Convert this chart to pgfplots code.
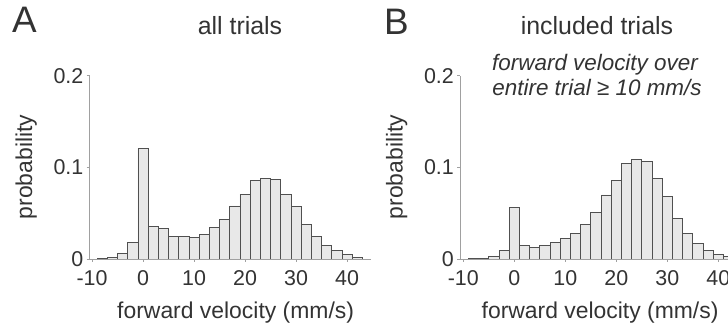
\documentclass[border=0pt]{standalone}
\usepackage{pgfplots}
\pgfplotsset{compat=1.18}
\usepackage{fontspec}
\setmainfont{Liberation Sans}
\definecolor{txt}{HTML}{333333}
\definecolor{axgray}{HTML}{A0A0A0}
\definecolor{barfill}{HTML}{E8E8E8}
\definecolor{baredge}{HTML}{505050}

\pgfplotsset{
  histo/.style={
    scale only axis, height=183bp, ymin=0, ymax=0.2,
    axis lines=left, axis line style={-, axgray, line width=1bp},
    every tick/.style={axgray, line width=1bp},
    tick align=outside, major tick length=3bp,
    ytick={0,0.1,0.2}, yticklabels={0,0.1,0.2},
    xtick={-10,0,10,20,30,40}, xticklabels={-10,0,10,20,30,40},
    tick label style={font=\fontsize{21.5}{25}\selectfont, text=txt, inner sep=0pt},
    x tick label style={anchor=north, yshift=-8bp},
    y tick label style={anchor=east, xshift=-3bp},
    xlabel={forward velocity (mm/s)},
    clip=true,
  },
  hbar/.style={ybar, bar width=2, fill=barfill, draw=baredge, line width=0.8bp},
}

\begin{document}
\begin{tikzpicture}
% Panel A
\begin{axis}[histo, at={(89.5bp,67bp)}, anchor=south west,
  xmin=-10.5, xmax=44.6, width=281bp,
  every axis x label/.style={at={(rel axis cs:0.52,0)}, anchor=base, yshift=-59bp,
      font=\fontsize{23}{27}\selectfont, text=txt, inner sep=0pt}]
\addplot[hbar] coordinates {
(-8,0.001) (-6,0.002) (-4,0.006) (-2,0.018) (0,0.121) (2,0.036) (4,0.033)
(6,0.025) (8,0.025) (10,0.024) (12,0.027) (14,0.034) (16,0.043) (18,0.058)
(20,0.071) (22,0.086) (24,0.088) (26,0.087) (28,0.071) (30,0.057) (32,0.038)
(34,0.025) (36,0.015) (38,0.009) (40,0.005) (42,0.002)
};
\end{axis}
% Panel B
\begin{axis}[histo, at={(460bp,67bp)}, anchor=south west,
  xmin=-10.65, xmax=44.6, width=281.8bp,
  every axis x label/.style={at={(rel axis cs:0.497,0)}, anchor=base, yshift=-59bp,
      font=\fontsize{23}{27}\selectfont, text=txt, inner sep=0pt}]
\addplot[hbar] coordinates {
(-8,0.001) (-6,0.001) (-4,0.003) (-2,0.009) (0,0.056) (2,0.015) (4,0.013)
(6,0.015) (8,0.018) (10,0.022) (12,0.028) (14,0.038) (16,0.051) (18,0.070)
(20,0.086) (22,0.104) (24,0.109) (26,0.107) (28,0.088) (30,0.068) (32,0.044)
(34,0.028) (36,0.017) (38,0.009) (40,0.005) (42,0.003)
};
\end{axis}
% y labels
\node[rotate=90, anchor=base, inner sep=0pt, font=\fontsize{23}{27}\selectfont, text=txt] at (32bp,159bp) {probability};
\node[rotate=90, anchor=base, inner sep=0pt, font=\fontsize{23}{27}\selectfont, text=txt] at (402.5bp,159bp) {probability};
% Titles
\node[anchor=base west, inner sep=0pt, font=\fontsize{37}{40}\selectfont, text=txt] at (12bp,293bp) {A};
\node[anchor=base, inner sep=0pt, font=\fontsize{25}{28}\selectfont, text=txt] at (240bp,291bp) {all trials};
\node[anchor=base west, inner sep=0pt, font=\fontsize{37}{40}\selectfont, text=txt] at (384bp,291bp) {B};
\node[anchor=base, inner sep=0pt, font=\fontsize{25}{28}\selectfont, text=txt] at (597bp,291bp) {included trials};
\node[anchor=base, inner sep=0pt, font=\fontsize{22.5}{25}\selectfont\itshape, text=txt] at (595bp,255bp) {forward velocity over};
\node[anchor=base, inner sep=0pt, font=\fontsize{22.5}{25}\selectfont\itshape, text=txt] at (597bp,230bp) {entire trial ≥ 10 mm/s};
\pgfresetboundingbox
\useasboundingbox (0,0) rectangle (728bp,326bp);
\end{tikzpicture}
\end{document}
